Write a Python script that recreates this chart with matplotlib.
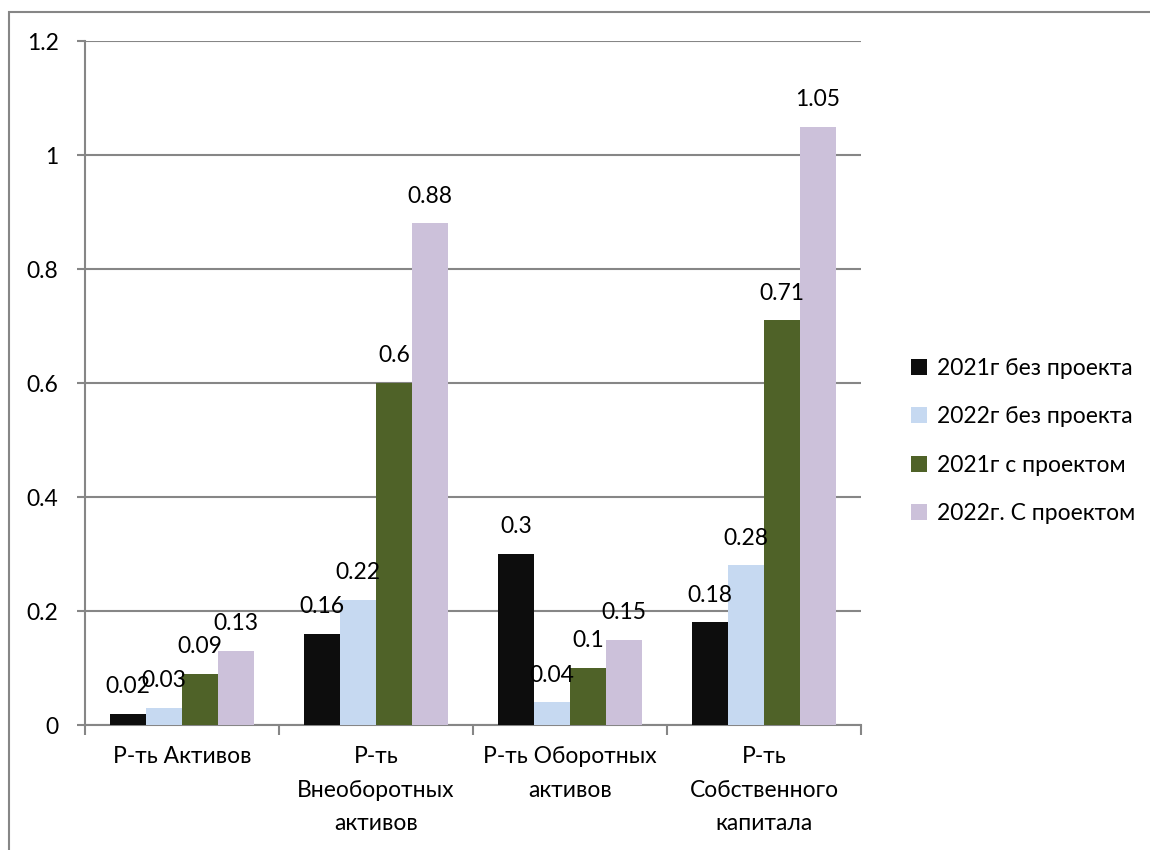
import numpy as np
import matplotlib
matplotlib.use("Agg")
import matplotlib.pyplot as plt
from matplotlib.patches import Rectangle

categories = ["Р-ть Активов", "Р-ть\nВнеоборотных\nактивов",
              "Р-ть Оборотных\nактивов", "Р-ть\nСобственного\nкапитала"]
series_names = ["2021г без проекта", "2022г без проекта",
                "2021г с проектом", "2022г. С проектом"]
v2021_base = [0.02, 0.16, 0.3, 0.18]
v2022_base = [0.03, 0.22, 0.04, 0.28]
v2021_proj = [0.09, 0.6, 0.1, 0.71]
v2022_proj = [0.13, 0.88, 0.15, 1.05]
yticks = [0, 0.2, 0.4, 0.6, 0.8, 1, 1.2]
ytick_labels = ["0", "0.2", "0.4", "0.6", "0.8", "1", "1.2"]

colors = ["#0d0d0d", "#c6d9f1", "#4f6228", "#ccc1da"]
series = [v2021_base, v2022_base, v2021_proj, v2022_proj]

FS = 16.5
plt.rcParams['font.family'] = ['Lato', 'DejaVu Sans']
plt.rcParams['font.size'] = FS

fig = plt.figure(figsize=(11.5, 8.5), dpi=100)
ax = fig.add_axes([85/1150, 1 - 725/850, 776/1150, 684/850])

# outer chart frame
fig.add_artist(Rectangle((9/1150, -0.1), 1.2, 1 - 12/850 + 0.1,
                         transform=fig.transFigure, fill=False,
                         edgecolor="#868686", linewidth=1.5))

x = np.arange(len(categories))
w = 0.74 / 4
for i, (vals, col, name) in enumerate(zip(series, colors, series_names)):
    pos = x - 0.37 + w * (i + 0.5)
    bars = ax.bar(pos, vals, width=w, color=col, label=name, zorder=3)
    for b, v in zip(bars, vals):
        ax.annotate(f"{v:g}", (b.get_x() + b.get_width() / 2, v),
                    xytext=(0, 12), textcoords="offset points",
                    ha="center", va="bottom", fontsize=FS, zorder=4)

ax.set_xlim(-0.5, len(categories) - 0.5)
ax.set_ylim(0, 1.2)
ax.set_yticks(yticks)
ax.set_yticklabels(ytick_labels)
ax.grid(axis="y", color="#868686", linewidth=1.5, zorder=0)

ax.set_xticks(x)
ax.set_xticklabels(categories, linespacing=1.75)
ax.set_xticks(np.arange(len(categories) + 1) - 0.5, minor=True)
ax.tick_params(axis="x", which="major", length=0, pad=15)
ax.tick_params(axis="x", which="minor", length=7, color="#868686", width=1.5)
ax.tick_params(axis="y", length=6, color="#868686", width=1.5, pad=13)

for s in ["top", "right"]:
    ax.spines[s].set_visible(False)
for s in ["left", "bottom"]:
    ax.spines[s].set_color("#868686")
    ax.spines[s].set_linewidth(1.5)

fig.legend(loc="upper left", bbox_to_anchor=(890/1150, 1 - 337/850),
           frameon=False, handlelength=0.7, handleheight=0.7,
           handletextpad=0.45, labelspacing=1.2, fontsize=FS)

fig.savefig("out.png", dpi=100)
